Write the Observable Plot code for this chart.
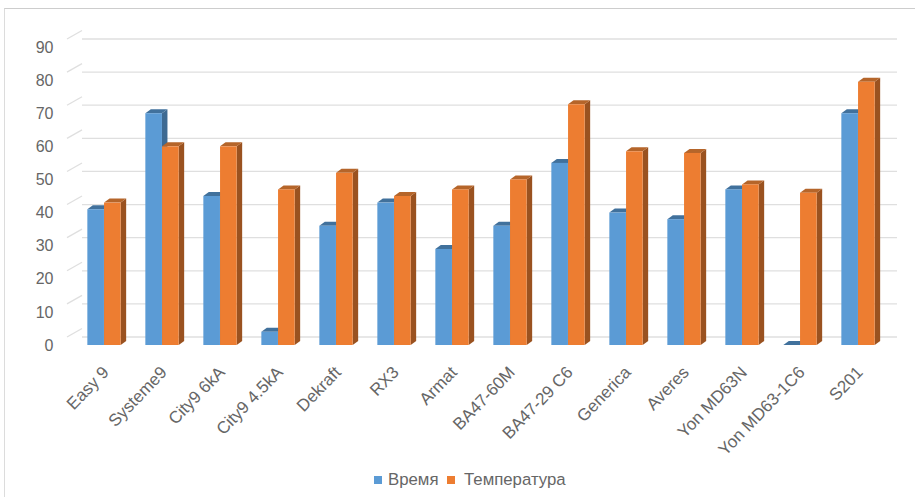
<!DOCTYPE html>
<html><head><meta charset="utf-8">
<script src="https://cdn.jsdelivr.net/npm/d3@7"></script>
<script src="https://cdn.jsdelivr.net/npm/@observablehq/plot@0.6"></script>
<style>
html,body{margin:0;padding:0;background:#fff}
#chart{position:relative;width:915px;height:497px;overflow:hidden;font-family:"Liberation Sans",sans-serif}
#chart svg{position:absolute;left:0;top:0}
#frame{position:absolute;left:4px;top:8px;width:920px;height:500px;border:1px solid #DCDCDC;border-top-color:#CDCDCD}
#legend{position:absolute;left:0;right:0;top:470px;height:20px;font-size:16.8px;line-height:20px;color:#666}
#legend span{position:absolute;white-space:nowrap}
#legend i{position:absolute;top:6px;width:8px;height:8px}
</style></head><body><div id="chart"><div id="frame"></div></div>
<script>
const categories = ["Easy 9","Systeme9","City9 6kA","City9 4.5kA","Dekraft","RX3","Armat","BA47-60M","BA47-29 C6","Generica","Averes","Yon MD63N","Yon MD63-1C6","S201"];
const timeValues = [41,70,45,4,36,43,29,36,55,40,38,47,0,70];
const tempValues = [43,60,60,47,52,45,47,50,72.7,58.5,58,48.5,46,79.5];
const yTicks = [0,10,20,30,40,50,60,70,80,90];
const timeName = "Время", tempName = "Температура";
const palette = {
  [timeName]: {front:"#5B9BD5", top:"#41719C", side:"#3E6A92"},
  [tempName]: {front:"#ED7D31", top:"#B5652A", side:"#9A5220"}
};
const depthX = 5.5, depthY = 4, wallX = 15, wallY = 8.5;
const barW = 16.7;

const rows = s => (d,i) => ({name:categories[i], series:s, value:d});

function bars3d(data, seriesName, insetLeft, insetRight){
  const c = palette[seriesName];
  return Plot.barY(data, {
    x:"name", y:"value", fill:c.front, insetLeft, insetRight,
    render(index, scales, values, dims, ctx, next){
      const g = next(index, scales, values, dims, ctx);
      const bw = scales.x.bandwidth();
      const y0 = scales.y(0);
      const faces = d3.create("svg:g");
      for (const i of index){
        const X = values.x[i] + insetLeft, W = bw - insetLeft - insetRight;
        const T = scales.y(data[i].value);
        faces.append("polygon").attr("fill",c.side).attr("points",
          [[X+W,T],[X+W+depthX,T-depthY],[X+W+depthX,y0-depthY],[X+W,y0]].join(" "));
        faces.append("polygon").attr("fill",c.top).attr("points",
          [[X,T],[X+W,T],[X+W+depthX,T-depthY],[X+depthX,T-depthY]].join(" "));
      }
      g.insertBefore(faces.node(), g.firstChild);
      return g;
    }
  });
}
const step = (887.5-74.3)/categories.length;
const outer = step/2 - barW;

const grid = Plot.ruleY(yTicks, {
  stroke:"#DFDFDF", strokeWidth:1.3, insetLeft:wallX, dy:-wallY,
  render(index, scales, values, dims, ctx, next){
    const g = next(index, scales, values, dims, ctx);
    for (const i of index){
      const y = scales.y(yTicks[i]);
      const l = document.createElementNS("http://www.w3.org/2000/svg","line");
      l.setAttribute("x1",dims.marginLeft); l.setAttribute("x2",dims.marginLeft+wallX);
      l.setAttribute("y1",y); l.setAttribute("y2",y-wallY);
      l.setAttribute("stroke","#DFDFDF"); l.setAttribute("stroke-width",1.3);
      g.appendChild(l);
    }
    return g;
  }
});

const plot = Plot.plot({
  width:915, height:460,
  marginLeft:67, marginRight:18, marginTop:47, marginBottom:115,
  style:{fontFamily:"Liberation Sans, sans-serif", background:"transparent", overflow:"visible"},
  x:{type:"band", domain:categories, range:[74.3,887.5], padding:0, align:0.5, label:null},
  y:{domain:[0,90], label:null},
  marks:[
    grid,
    Plot.axisY(yTicks,{tickSize:0, tickPadding:14, fontSize:16, fill:"#666", label:null, anchor:"left", dy:0}),
    Plot.axisX(categories,{anchor:"bottom", tickSize:0, tickPadding:24, tickRotate:-46, fontSize:17, fill:"#666", label:null, lineWidth:100, dx:1.5}),
    bars3d(timeValues.map(rows(timeName)), timeName, outer, step/2),
    bars3d(tempValues.map(rows(tempName)), tempName, step/2, outer)
  ]
});
const chart = document.getElementById("chart");
chart.appendChild(plot);
const legend = document.createElement("div");
legend.id = "legend";
legend.innerHTML = `<i style="left:374px;background:${palette[timeName].front}"></i><span style="left:388px">${timeName}</span>`+
  `<i style="left:447px;background:${palette[tempName].front}"></i><span style="left:464px">${tempName}</span>`;
chart.appendChild(legend);
</script></body></html>
